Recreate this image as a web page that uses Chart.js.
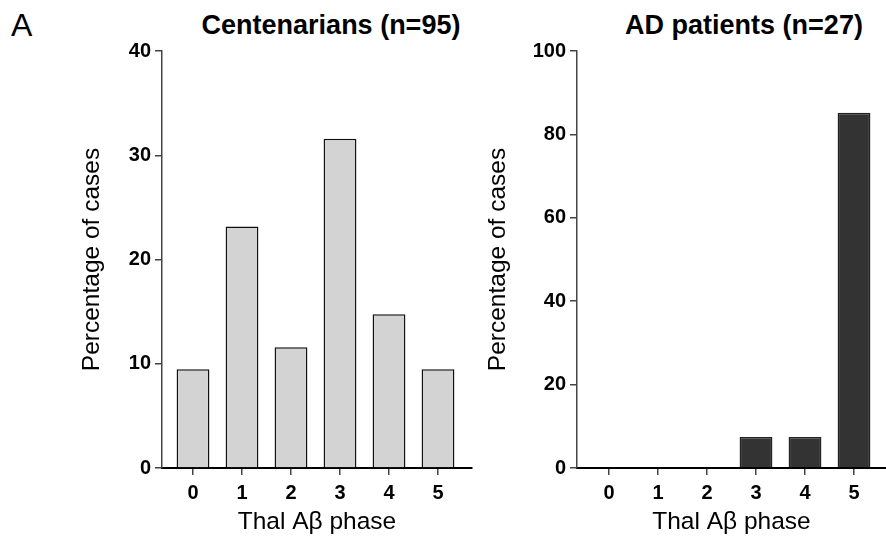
<!DOCTYPE html>
<html>
<head>
<meta charset="utf-8">
<script src="https://cdn.jsdelivr.net/npm/chart.js@4.4.1/dist/chart.umd.min.js"></script>
<style>
    html, body { margin: 0; padding: 0; background: #fff; }
    body { width: 886px; height: 552px; position: relative; overflow: hidden;
           font-family: "Liberation Sans", Arial, sans-serif; color: #000; }
    .panel { position: absolute; top: 0; height: 552px; }
    .title { position: absolute; top: 9px; font-size: 27px; font-weight: bold;
             white-space: nowrap; transform: translateX(-50%); line-height: 32px; }
    #letter { position: absolute; left: 11px; top: 7px; font-size: 32px; line-height: 37px; }
</style>
</head>
<body>
<div id="letter">A</div>
<div class="title" style="left:331px">Centenarians (n=95)</div>
<div class="title" style="left:744px">AD patients (n=27)</div>
<div class="panel" style="left:0;width:480px"><canvas id="chartCent"></canvas></div>
<div class="panel" style="left:480px;width:406px"><canvas id="chartAD"></canvas></div>

<script>
// Thal Aβ phase categories
const phases = [0, 1, 2, 3, 4, 5];
// percentage of cases per phase
const centenarianPct = [9.47, 23.16, 11.58, 31.58, 14.74, 9.47];
const adPatientPct = [0, 0, 0, 7.41, 7.41, 85.19];
// y-axis ticks
const centTicks = [0, 10, 20, 30, 40];
const adTicks = [0, 20, 40, 60, 80, 100];

const FONT = '"Liberation Sans", Arial, sans-serif';

/**
 * Build a bar chart for one panel
 */
function makePanel(canvasId, values, yTicks, opts) {
    const ctx = document.getElementById(canvasId);
    return new Chart(ctx, {
        type: 'bar',
        data: {
            datasets: [{
                data: phases.map((p, i) => ({ x: p, y: values[i] })),
                backgroundColor: opts.fill,
                borderColor: opts.border,
                borderWidth: 1.5,
                barPercentage: 0.67,
                categoryPercentage: 1
            }]
        },
        options: {
            responsive: true,
            maintainAspectRatio: false,
            animation: false,
            layout: {
                padding: { top: 51, left: opts.padLeft, right: opts.padRight, bottom: 0 }
            },
            plugins: {
                legend: { display: false },
                tooltip: { enabled: false }
            },
            scales: {
                x: {
                    type: 'linear',
                    offset: false,
                    min: opts.xMin,
                    max: opts.xMax,
                    afterBuildTicks: (scale) => {
                        scale.ticks = phases.map(p => ({ value: p }));
                    },
                    afterFit: (scale) => { scale.height = 84; },
                    grid: {
                        offset: false,
                        drawOnChartArea: false,
                        drawTicks: true,
                        tickLength: 7,
                        color: '#444',
                        lineWidth: 1.5
                    },
                    border: { display: true, color: '#000', width: 2 },
                    ticks: {
                        padding: 6,
                        color: '#000',
                        font: { family: FONT, size: 20, weight: 'bold' }
                    },
                    title: {
                        display: true,
                        text: 'Thal Aβ phase',
                        color: '#000',
                        padding: { top: 0, bottom: 15 },
                        font: { family: FONT, size: 24.5 }
                    }
                },
                y: {
                    min: yTicks[0],
                    max: yTicks[yTicks.length - 1],
                    afterBuildTicks: (scale) => {
                        scale.ticks = yTicks.map(v => ({ value: v }));
                    },
                    afterFit: (scale) => { scale.width = opts.yWidth; },
                    grid: {
                        drawOnChartArea: false,
                        drawTicks: true,
                        tickLength: 7,
                        color: '#444',
                        lineWidth: 1.5
                    },
                    border: { display: true, color: '#444', width: 1.5 },
                    ticks: {
                        padding: 4,
                        color: '#000',
                        font: { family: FONT, size: 20, weight: 'bold' }
                    },
                    title: {
                        display: true,
                        text: 'Percentage of cases',
                        color: '#000',
                        padding: 0,
                        font: { family: FONT, size: 24.5 }
                    }
                }
            }
        }
    });
}

makePanel('chartCent', centenarianPct, centTicks, {
    fill: '#d3d3d3', border: '#111',
    padLeft: 78, padRight: 8, yWidth: 84,
    xMin: -0.633, xMax: 5.694
});

makePanel('chartAD', adPatientPct, adTicks, {
    fill: '#333333', border: '#222',
    padLeft: 4, padRight: 0, yWidth: 93,
    xMin: -0.653, xMax: 5.653
});
</script>
</body>
</html>
